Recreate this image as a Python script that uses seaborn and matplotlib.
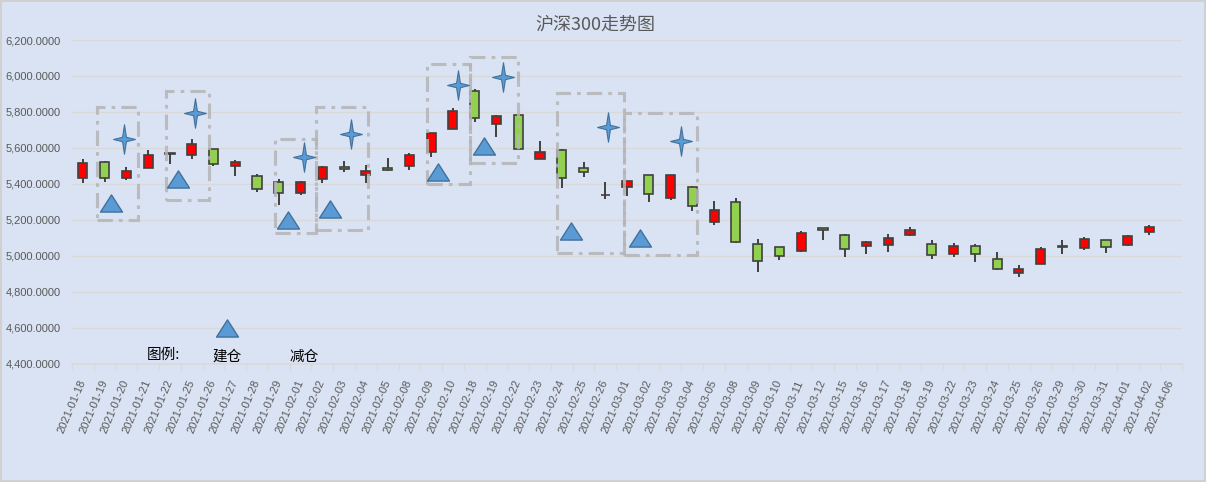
import numpy as np
import pandas as pd
import seaborn as sns
import matplotlib
matplotlib.use('Agg')
import matplotlib.pyplot as plt
from matplotlib.path import Path
from matplotlib.patches import Rectangle
from matplotlib.ticker import FuncFormatter, FixedLocator

# 日K数据
dates = ['2021-01-18', '2021-01-19', '2021-01-20', '2021-01-21', '2021-01-22', '2021-01-25',
         '2021-01-26', '2021-01-27', '2021-01-28', '2021-01-29', '2021-02-01', '2021-02-02',
         '2021-02-03', '2021-02-04', '2021-02-05', '2021-02-08', '2021-02-09', '2021-02-10',
         '2021-02-18', '2021-02-19', '2021-02-22', '2021-02-23', '2021-02-24', '2021-02-25',
         '2021-02-26', '2021-03-01', '2021-03-02', '2021-03-03', '2021-03-04', '2021-03-05',
         '2021-03-08', '2021-03-09', '2021-03-10', '2021-03-11', '2021-03-12', '2021-03-15',
         '2021-03-16', '2021-03-17', '2021-03-18', '2021-03-19', '2021-03-22', '2021-03-23',
         '2021-03-24', '2021-03-25', '2021-03-26', '2021-03-29', '2021-03-30', '2021-03-31',
         '2021-04-01', '2021-04-02', '2021-04-06']
opens = [5433, 5522, 5433, 5489, 5567, 5561, 5594, 5500, 5444, 5411, 5350, 5428,
         5496, 5450, 5491, 5500, 5578, 5705, 5917, 5733, 5781, 5539, 5589, 5489,
         5337, 5385, 5450, 5322, 5383, 5190, 5297, 5064, 5047, 5028, 5156, 5117,
         5054, 5061, 5117, 5067, 5011, 5056, 4983, 4906, 4956, 5052, 5044, 5089,
         5061, 5133, np.nan]
highs = [5539, 5530, 5496, 5589, 5570, 5652, 5594, 5533, 5456, 5428, 5419, 5502,
         5528, 5506, 5546, 5572, 5683, 5822, 5926, 5783, 5781, 5639, 5596, 5520,
         5409, 5415, 5450, 5450, 5391, 5306, 5322, 5092, 5050, 5139, 5156, 5122,
         5085, 5122, 5161, 5091, 5072, 5067, 5022, 4950, 5050, 5089, 5106, 5089,
         5117, 5172, np.nan]
lows = [5404, 5409, 5420, 5489, 5509, 5537, 5498, 5443, 5354, 5281, 5337, 5404,
        5465, 5406, 5470, 5476, 5548, 5705, 5743, 5659, 5594, 5539, 5376, 5437,
        5317, 5335, 5298, 5311, 5248, 5170, 5072, 4912, 4978, 5020, 5087, 4993,
        5009, 5020, 5109, 4981, 4993, 4965, 4920, 4881, 4956, 5009, 5031, 5015,
        5056, 5115, np.nan]
closes = [5517, 5433, 5472, 5561, 5568, 5622, 5509, 5522, 5372, 5350, 5411, 5494,
          5483, 5472, 5478, 5561, 5683, 5806, 5767, 5778, 5594, 5578, 5433, 5467,
          5337, 5415, 5344, 5450, 5278, 5258, 5080, 4970, 5002, 5128, 5144, 5039,
          5078, 5100, 5144, 5006, 5056, 5011, 4928, 4928, 5039, 5052, 5094, 5050,
          5111, 5161, np.nan]

# 建仓 / 减仓 标记
buy_x = [1.29, 4.37, 9.43, 11.36, 16.32, 18.43, 22.43, 25.6]
buy_y = [5294, 5428, 5200, 5261, 5467, 5611, 5139, 5100]
sell_x = [1.89, 5.15, 10.16, 12.32, 17.24, 19.31, 24.13, 27.49]
sell_y = [5650, 5794, 5550, 5678, 5950, 5994, 5717, 5639]

# 虚线框
box_x0 = [0.65, 3.82, 8.83, 10.71, 15.81, 17.79, 21.79, 24.87]
box_x1 = [2.53, 5.80, 10.71, 13.10, 17.79, 19.99, 24.87, 28.22]
box_lo = [5200, 5311, 5128, 5144, 5400, 5517, 5017, 5006]
box_hi = [5828, 5917, 5650, 5828, 6067, 6106, 5906, 5794]

df = pd.DataFrame({'date': dates, 'open': opens, 'high': highs, 'low': lows, 'close': closes})
df['x'] = np.arange(len(df))

bg = '#dae3f3'
sns.set_theme(style='white', rc={'axes.facecolor': bg, 'figure.facecolor': bg})
plt.rcParams['font.family'] = ['Liberation Sans', 'Noto Sans CJK SC', 'DejaVu Sans']
cjk = ['Noto Sans CJK SC', 'DejaVu Sans']

fig = plt.figure(figsize=(12.06, 4.82), dpi=100)
fig.patch.set_edgecolor('#d0d0d0')
fig.patch.set_linewidth(1.5)
ax = fig.add_axes([0.0597, 0.245, 0.9205, 0.672])

ok = df.dropna()
up = ok['close'] >= ok['open']
body_lo = ok[['open', 'close']].min(axis=1)
body_h = (ok['close'] - ok['open']).abs().clip(lower=3)
ax.vlines(ok['x'], ok['low'], ok['high'], color='#404040', lw=1.4, zorder=2)
ax.bar(ok['x'], body_h, bottom=body_lo, width=0.42,
       color=np.where(up, '#ff0000', '#92d050'), edgecolor='#404040', linewidth=1.2, zorder=3)

# 标记形状
tri = Path([(-1, -0.78), (1, -0.78), (0, 0.78), (-1, -0.78)],
           [Path.MOVETO, Path.LINETO, Path.LINETO, Path.CLOSEPOLY])
a, b = 0.13, 0.15
star = Path([(0, 1), (a, b), (0.74, 0), (a, -b), (0, -1), (-a, -b), (-0.74, 0), (-a, b), (0, 1)],
            [Path.MOVETO] + [Path.LINETO] * 7 + [Path.CLOSEPOLY])

sns.scatterplot(x=buy_x, y=buy_y, marker=tri, s=250, color='#5b9bd5', edgecolor='#41719c',
                linewidth=1, ax=ax, zorder=5)
sns.scatterplot(x=sell_x, y=sell_y, marker=star, s=450, color='#5b9bd5', edgecolor='#41719c',
                linewidth=0.8, ax=ax, zorder=5)

for x0, x1, lo, hi in zip(box_x0, box_x1, box_lo, box_hi):
    ax.add_patch(Rectangle((x0, lo), x1 - x0, hi - lo, fill=False, edgecolor='#b5b5b5',
                           linewidth=2.2, linestyle=(0, (5, 2, 1.2, 2)), alpha=0.85, zorder=4))

# 图例 (手工)
sns.scatterplot(x=[6.62], y=[4600], marker=tri, s=250, color='#5b9bd5', edgecolor='#41719c',
                linewidth=1, ax=ax, zorder=5, clip_on=False)
ax.text(3.68, 4450, '图例:', family=cjk, fontsize=10.5, color='black', ha='center', va='center')
ax.text(6.62, 4440, '建仓', family=cjk, fontsize=10.5, color='black', ha='center', va='center')
ax.text(10.16, 4440, '减仓', family=cjk, fontsize=10.5, color='black', ha='center', va='center')

ax.set_xlim(-0.5, len(df) - 0.5)
ax.set_ylim(4400, 6200)
ax.set_yticks(np.arange(4400, 6201, 200))
ax.yaxis.set_major_formatter(FuncFormatter(lambda v, p: f'{v:,.4f}'))
ax.grid(axis='y', color='#d9d9d9', lw=1)
ax.set_axisbelow(True)
ax.set_xticks(df['x'])
ax.set_xticklabels(df['date'], rotation=67, ha='right', va='center', rotation_mode='anchor')
ax.xaxis.set_minor_locator(FixedLocator(np.arange(-0.5, len(df), 1)))
ax.tick_params(axis='x', which='major', length=0, pad=12, labelsize=8, labelcolor='#595959')
ax.tick_params(axis='x', which='minor', length=4, color='#d9d9d9', width=1, bottom=True)
ax.tick_params(axis='y', length=0, pad=8, labelsize=8, labelcolor='#595959')
for s in ['left', 'right', 'top']:
    ax.spines[s].set_visible(False)
ax.spines['bottom'].set_color('#d9d9d9')
ax.set_xlabel('')
ax.set_ylabel('')

fig.text(0.494, 0.948, '沪深300走势图', family=cjk, fontsize=13, color='#595959',
         ha='center', va='center')

fig.savefig('out.png', dpi=100, facecolor=bg)
